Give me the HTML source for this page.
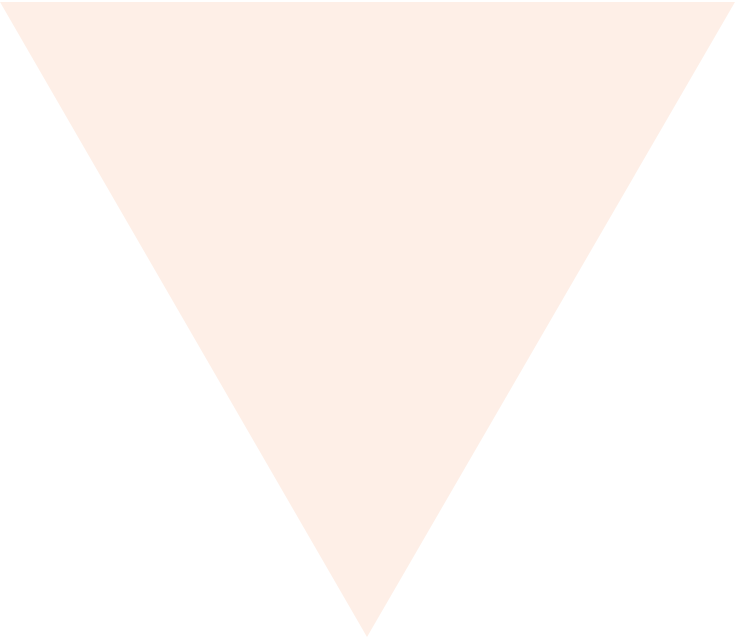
<!DOCTYPE html>
<html><head><meta charset="utf-8"><style>html,body{margin:0;padding:0;background:#fff;width:735px;height:637px;overflow:hidden}</style></head>
<body>
<svg width="735" height="637" viewBox="0 0 735 637">
<polygon points="0,2 735,2 367,637" fill="#FEEFE7"/>
</svg>
</body></html>
